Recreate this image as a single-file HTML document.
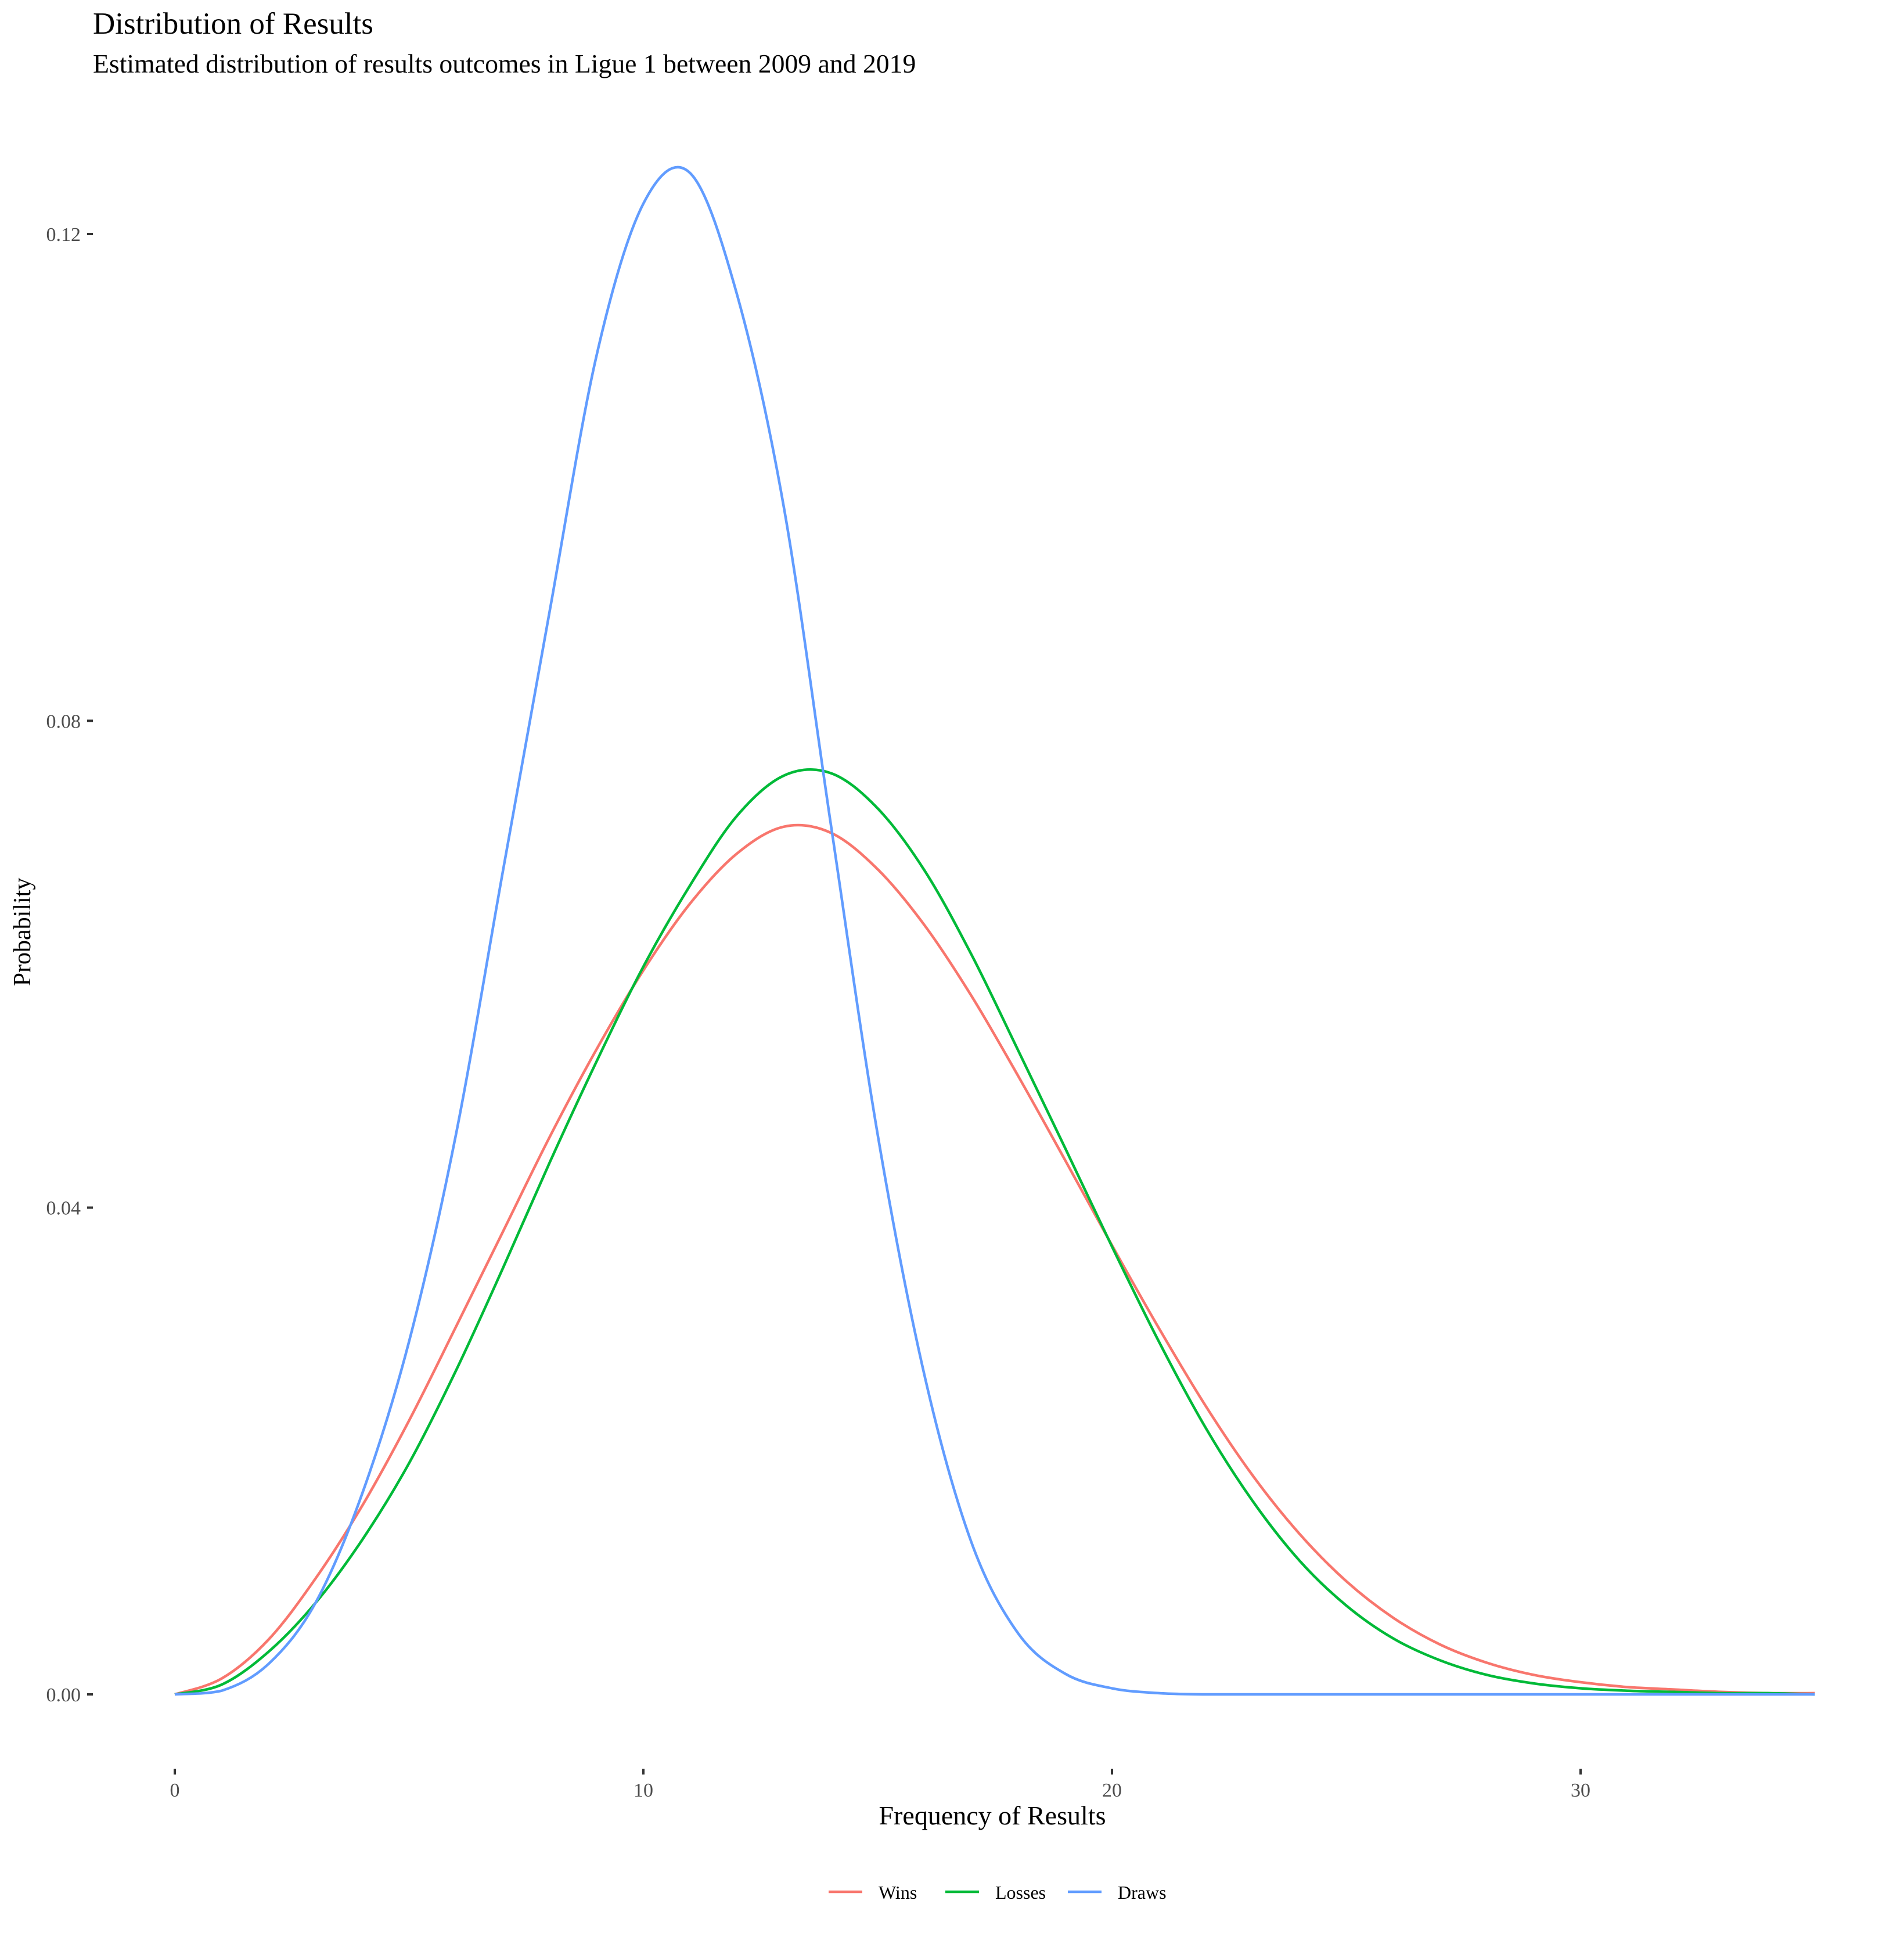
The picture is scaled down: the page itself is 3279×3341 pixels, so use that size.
<!DOCTYPE html>
<html><head><meta charset="utf-8"><style>
html,body{margin:0;padding:0;background:#fff;}
svg{display:block;font-family:"Liberation Serif",serif;}
</style></head><body>
<svg id="chart" width="3279" height="3341" viewBox="0 0 3279 3341" xmlns="http://www.w3.org/2000/svg">
<rect width="3279" height="3341" fill="#fff"/>
<text x="160" y="58" font-size="53" fill="#000">Distribution of Results</text>
<text x="160" y="125" font-size="45.7" fill="#000">Estimated distribution of results outcomes in Ligue 1 between 2009 and 2019</text>
<g id="yaxis"></g>
<g id="xaxis"></g>
<g id="series"></g>
<text x="1709" y="3142" font-size="46" text-anchor="middle" fill="#000">Frequency of Results</text>
<text transform="translate(52,1605) rotate(-90)" font-size="42" text-anchor="middle" fill="#000">Probability</text>
<g id="legend"></g>
</svg>
<script>
const xValues = [0,1,2,3,4,5,6,7,8,9,10,11,12,13,14,15,16,17,18,19,20,21,22,23,24,25,26,27,28,29,30,31,32,33,34,35];
const wins = [0,0.0013,0.0045,0.0095,0.0155,0.0225,0.0302,0.038,0.0458,0.053,0.0595,0.065,0.0691,0.0713,0.0708,0.0678,0.0632,0.0574,0.0508,0.0439,0.0369,0.0301,0.0237,0.018,0.0132,0.0093,0.0063,0.0041,0.0026,0.0016,0.001,0.0006,0.0004,0.0002,0.0001,0.0001];
const losses = [0,0.0008,0.0035,0.0075,0.0127,0.019,0.0266,0.035,0.0437,0.052,0.0598,0.0665,0.0722,0.0755,0.0757,0.0728,0.0677,0.0608,0.0529,0.0449,0.0368,0.029,0.0219,0.0159,0.011,0.0073,0.0046,0.0028,0.0016,0.0009,0.0005,0.0003,0.0002,0.0001,0.0001,0];
const draws = [0,0.0003,0.0025,0.0075,0.0165,0.029,0.046,0.0676,0.089,0.110,0.1225,0.125,0.115,0.0975,0.0715,0.046,0.0262,0.0125,0.005,0.0017,0.0005,0.0001,0,0,0,0,0,0,0,0,0,0,0,0,0,0];
const seriesNames = ["Wins","Losses","Draws"];
const yTicks = [0,0.04,0.08,0.12];
const yTickLabels = ["0.00","0.04","0.08","0.12"];
const xTicks = [0,10,20,30];
const xTickLabels = ["0","10","20","30"];

const NS="http://www.w3.org/2000/svg";
const colors=["#F8766D","#00BA38","#619CFF"];
const xs=v=>301+v*80.7;
const ys=v=>2918-v*(2918-403)/0.12;
function mk(tag,attrs,parent){const e=document.createElementNS(NS,tag);for(const k in attrs)e.setAttribute(k,attrs[k]);parent.appendChild(e);return e;}
const yg=document.getElementById('yaxis');
yTicks.forEach((t,i)=>{
  const l=mk('line',{x1:150,x2:160,y1:ys(t),y2:ys(t),stroke:'#333','stroke-width':4},yg);
  
  
  const tx=mk('text',{x:139,y:ys(t)+12,'font-size':34,'text-anchor':'end',fill:'#4d4d4d'},yg);
  tx.textContent=yTickLabels[i];
  
  
});
const xg=document.getElementById('xaxis');
xTicks.forEach((t,i)=>{
  const l=mk('line',{x1:xs(t),x2:xs(t),y1:3046,y2:3056,stroke:'#333','stroke-width':4},xg);
  
  
  const tx=mk('text',{x:xs(t),y:3094,'font-size':34,'text-anchor':'middle',fill:'#4d4d4d'},xg);
  tx.textContent=xTickLabels[i];
  
  
});
function pathFor(vals){
  const p=xValues.map((x,i)=>[xs(x),ys(vals[i])]);
  let d='M'+p[0][0]+','+p[0][1];
  for(let i=0;i<p.length-1;i++){
    const p0=p[Math.max(i-1,0)],p1=p[i],p2=p[i+1],p3=p[Math.min(i+2,p.length-1)];
    const c1=[p1[0]+(p2[0]-p0[0])/6,Math.min(ys(0),p1[1]+(p2[1]-p0[1])/6)];
    const c2=[p2[0]-(p3[0]-p1[0])/6,Math.min(ys(0),p2[1]-(p3[1]-p1[1])/6)];
    d+=' C'+c1[0]+','+c1[1]+' '+c2[0]+','+c2[1]+' '+p2[0]+','+p2[1];
  }
  return d;
}
const sg=document.getElementById('series');
[wins,losses,draws].forEach((vals,i)=>{
  const pth=mk('path',{d:pathFor(vals),fill:'none',stroke:colors[i],'stroke-width':4.5,'stroke-linejoin':'round'},sg);
  
  
});
const lg=document.getElementById('legend');
const keyX=[1427,1628,1839];
seriesNames.forEach((n,i)=>{
  const l=mk('line',{x1:keyX[i],x2:keyX[i]+58,y1:3258,y2:3258,stroke:colors[i],'stroke-width':4.5},lg);
  
  
  const tx=mk('text',{x:keyX[i]+86,y:3270,'font-size':32,fill:'#000'},lg);
  tx.textContent=n;
  
  
});
</script>
</body></html>
